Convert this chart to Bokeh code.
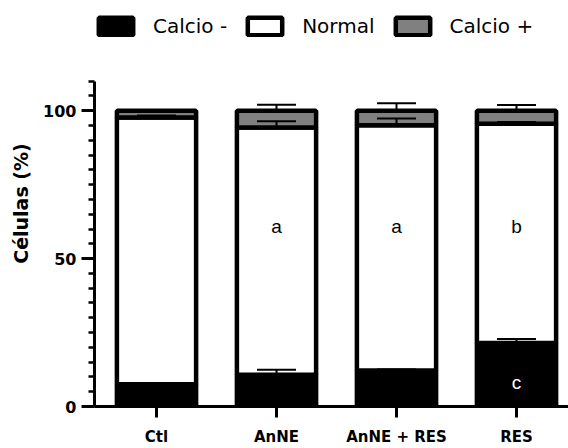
from bokeh.plotting import figure
from bokeh.models import (Range1d, FixedTicker, Whisker, TeeHead, ColumnDataSource,
                          Legend, LegendItem)
from bokeh.core.properties import value
from bokeh.embed import file_html
from bokeh.resources import INLINE

# ---- data ----
cats = ["Ctl", "AnNE", "AnNE + RES", "RES"]
calcio_neg = [7.5, 10.7, 12.2, 21.5]
normal = [90.2, 83.6, 82.9, 74.1]
calcio_pos = [2.3, 5.7, 4.9, 4.4]
err_neg = [0.3, 1.7, 0.3, 1.3]
err_normal = [0.7, 2.1, 2.3, 0.6]
err_pos = [0.0, 2.0, 2.5, 1.9]
series_names = ["Calcio -", "Normal", "Calcio +"]
y_ticks = [0, 50, 100]
sig_idx = [1, 2, 3, 3]
sig_y = [61, 61, 61, 8]
sig_text = ["a", "a", "b", "c"]
sig_color = ["black", "black", "black", "white"]

xs = list(range(len(cats)))
src = ColumnDataSource(dict(x=xs, neg=calcio_neg, nor=normal, pos=calcio_pos))

p = figure(width=568, height=448, output_backend="svg", toolbar_location=None,
           x_range=Range1d(-0.5167, 3.4333), y_range=Range1d(0, 137.25),
           min_border_left=94, min_border_right=0, min_border_top=0, min_border_bottom=39)
p.outline_line_color = None
p.xgrid.visible = False
p.ygrid.visible = False
p.background_fill_color = "white"

rs = p.vbar_stack(["neg", "nor", "pos"], x="x", width=0.66, source=src,
                  fill_color=["black", "white", "#808080"], line_color="black",
                  line_width=4.5)

# error bars (upward only), at the top of each segment
tops1 = calcio_neg
tops2 = [a + b for a, b in zip(calcio_neg, normal)]
tops3 = [a + b + c for a, b, c in zip(calcio_neg, normal, calcio_pos)]
for tops, errs in ((tops1, err_neg), (tops2, err_normal), (tops3, err_pos)):
    s = ColumnDataSource(dict(x=xs, lower=tops, upper=[t + e for t, e in zip(tops, errs)]))
    w = Whisker(base="x", lower="lower", upper="upper", dimension="height", source=s,
                line_color="black", line_width=2, lower_head=None,
                upper_head=TeeHead(size=39, line_width=2, line_color="black"),
                level="overlay")
    p.add_layout(w)

# significance letters
ssrc = ColumnDataSource(dict(x=sig_idx, y=sig_y, t=sig_text, c=sig_color))
p.text(x="x", y="y", text="t", text_color="c", source=ssrc, text_align="center",
       text_baseline="middle", text_font=value("Liberation Sans"), text_font_size="19px")

# axes
xa = p.xaxis[0]
xa.ticker = FixedTicker(ticks=xs)
xa.major_label_overrides = {i: c for i, c in zip(xs, cats)}
xa.minor_tick_line_color = None
xa.axis_line_width = 3
xa.major_tick_line_width = 3
xa.major_tick_in = 0
xa.major_tick_out = 11
xa.major_label_standoff = 10
xa.major_label_text_font = "DejaVu Sans"
xa.major_label_text_font_style = "bold"
xa.major_label_text_font_size = "15px"
xa.major_label_text_color = "black"

ya = p.yaxis[0]
ya.bounds = (0, 110)
ya.ticker = FixedTicker(ticks=y_ticks, minor_ticks=list(range(0, 111, 5)))
ya.axis_line_width = 3
ya.major_tick_line_width = 3
ya.major_tick_in = 0
ya.major_tick_out = 13
ya.minor_tick_line_width = 2.5
ya.minor_tick_in = 0
ya.minor_tick_out = 6
ya.major_label_standoff = 5
ya.major_label_text_font = "DejaVu Sans"
ya.major_label_text_font_style = "bold"
ya.major_label_text_font_size = "16px"
ya.major_label_text_color = "black"
ya.axis_label = "Células (%)"
ya.axis_label_text_font = "DejaVu Sans"
ya.axis_label_text_font_style = "bold"
ya.axis_label_text_font_size = "19px"
ya.axis_label_text_color = "black"
ya.axis_label_standoff = 8

legend = Legend(items=[LegendItem(label=n, renderers=[r]) for n, r in zip(series_names, rs)],
                orientation="horizontal", location=(0, 368),
                glyph_width=43, glyph_height=22, label_standoff=16, spacing=16,
                padding=0, margin=0, border_line_color=None, background_fill_alpha=0,
                label_text_font="DejaVu Sans", label_text_font_size="20px",
                label_text_color="black", label_height=22)
p.add_layout(legend)

open("out.html", "w").write(file_html(p, INLINE))
